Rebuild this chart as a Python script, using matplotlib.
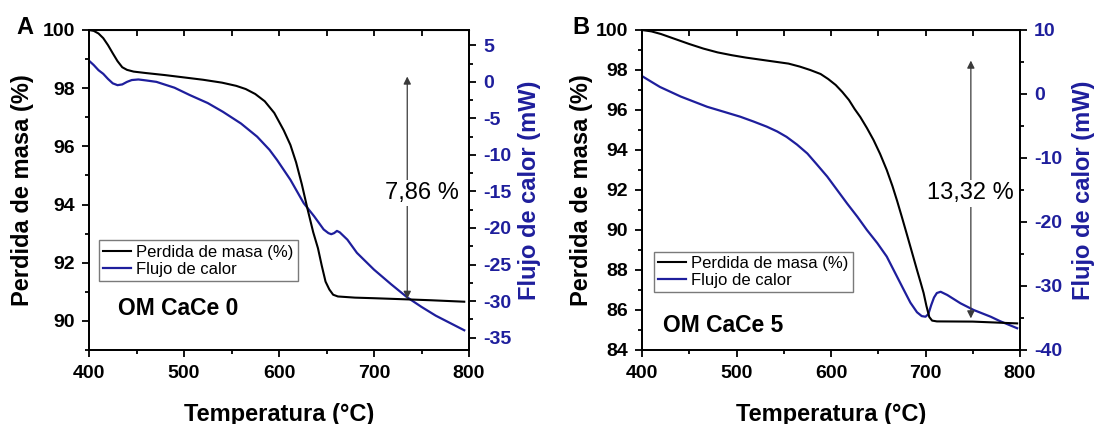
import matplotlib
matplotlib.use("Agg")
import matplotlib.pyplot as plt
from matplotlib.ticker import MultipleLocator

plt.rcParams['font.family'] = ['Liberation Sans', 'DejaVu Sans']
plt.rcParams['axes.unicode_minus'] = False

# ---- data ----
# panel A (OM CaCe 0)
temp_a_masa = [400, 405, 410, 415, 420, 425, 430, 435, 440, 447, 460, 480, 500, 520, 540, 555, 565,
               575, 585, 595, 605, 612, 618, 624, 630, 636, 641, 645, 649, 653, 657, 662, 680, 700,
               735, 760, 795]
masa_a = [100.0, 99.97, 99.88, 99.72, 99.48, 99.2, 98.93, 98.72, 98.63, 98.57, 98.52, 98.45, 98.37,
          98.29, 98.19, 98.08, 97.97, 97.8, 97.55, 97.15, 96.55, 96.05, 95.45, 94.7, 93.85, 93.05,
          92.5, 91.9, 91.35, 91.08, 90.9, 90.84, 90.8, 90.78, 90.74, 90.71, 90.66]

temp_a_flujo = [400, 405, 410, 415, 420, 425, 430, 435, 440, 445, 452, 460, 471, 490, 506, 525, 541,
                560, 577, 590, 598, 612, 626, 637, 647, 652, 655, 658, 661, 664, 672, 682, 700, 718,
                735, 750, 765, 780, 795]
flujo_a = [2.9, 2.3, 1.6, 1.1, 0.4, -0.2, -0.45, -0.35, 0.0, 0.25, 0.33, 0.2, 0.0, -0.8, -1.8, -2.9,
           -4.1, -5.7, -7.5, -9.3, -10.7, -13.4, -16.6, -18.4, -20.2, -20.7, -20.85, -20.7, -20.4,
           -20.6, -21.6, -23.4, -25.7, -27.7, -29.5, -30.8, -32.0, -33.0, -34.0]

# panel B (OM CaCe 5)
temp_b_masa = [400, 410, 420, 435, 450, 465, 480, 495, 510, 525, 540, 555, 567, 578, 589, 597, 605,
               612, 619, 625, 631, 638, 645, 652, 659, 665, 670, 675, 680, 685, 691, 695, 698, 701,
               704, 707, 712, 750, 797]
masa_b = [100.0, 99.93, 99.8, 99.55, 99.3, 99.07, 98.88, 98.74, 98.62, 98.52, 98.42, 98.32, 98.17,
          98.0, 97.8, 97.55, 97.25, 96.9, 96.5, 96.05, 95.65, 95.1, 94.5, 93.8, 93.0, 92.2, 91.45,
          90.65, 89.83, 89.0, 88.0, 87.35, 86.85, 86.2, 85.65, 85.47, 85.43, 85.42, 85.33]

temp_b_flujo = [400, 410, 419, 430, 441, 455, 469, 486, 504, 518, 532, 543, 553, 564, 575, 585, 596,
                606, 617, 628, 638, 649, 659, 668, 677, 684, 691, 696, 700, 703, 706, 709, 712, 716,
                723, 737, 751, 769, 779, 797]
flujo_b = [2.8, 1.9, 1.1, 0.35, -0.4, -1.2, -2.0, -2.75, -3.55, -4.3, -5.1, -5.85, -6.7, -7.9, -9.3,
           -11.0, -12.9, -14.9, -17.1, -19.2, -21.25, -23.3, -25.4, -28.0, -30.6, -32.6, -34.1,
           -34.7, -34.8, -34.4, -33.0, -31.8, -31.1, -30.9, -31.4, -32.7, -33.75, -34.8, -35.5, -36.6]

muestras = ["OM CaCe 0", "OM CaCe 5"]
perdidas = ["7,86 %", "13,32 %"]
letras = ["A", "B"]

azul = '#1e1e9c'

fig = plt.figure(figsize=(10.95, 4.24), dpi=100)


def panel(rect, t_m, m, t_f, f, ylim_l, ylim_r, step_l, step_r, muestra, perdida,
          flecha, txt_pos, muestra_pos, leg_pos, lab_x):
    ax = fig.add_axes(rect)
    ax2 = ax.twinx()
    l1, = ax.plot(t_m, m, color='black', lw=1.5, label='Perdida de masa (%)')
    l2, = ax2.plot(t_f, f, color=azul, lw=1.6, label='Flujo de calor')
    ax.set_zorder(ax2.get_zorder() + 1)
    ax.patch.set_visible(False)

    ax.set_xlim(400, 800)
    ax.set_ylim(*ylim_l)
    ax2.set_ylim(*ylim_r)
    ax.xaxis.set_major_locator(MultipleLocator(100))
    ax.xaxis.set_minor_locator(MultipleLocator(50))
    ax.yaxis.set_major_locator(MultipleLocator(step_l))
    ax.yaxis.set_minor_locator(MultipleLocator(step_l / 2))
    ax2.yaxis.set_major_locator(MultipleLocator(step_r))
    ax2.yaxis.set_minor_locator(MultipleLocator(step_r / 2))

    for a in (ax, ax2):
        for s in a.spines.values():
            s.set_linewidth(1.3)
    ax.tick_params(which='major', direction='out', length=5, width=1.3, labelsize=14)
    ax.tick_params(axis='x', which='major', pad=6)
    ax.tick_params(axis='y', which='major', pad=5)
    ax.tick_params(which='minor', direction='out', length=3, width=1.3)
    ax2.tick_params(which='major', direction='out', length=5, width=1.3, labelsize=14,
                    labelcolor=azul, pad=5)
    ax2.tick_params(which='minor', direction='out', length=3, width=1.3)
    for lab in ax.get_xticklabels() + ax.get_yticklabels() + ax2.get_yticklabels():
        lab.set_fontweight('bold')

    top = ax.secondary_xaxis('top')
    top.xaxis.set_major_locator(MultipleLocator(100))
    top.xaxis.set_minor_locator(MultipleLocator(50))
    top.tick_params(which='both', direction='in', length=4, width=1.3, labeltop=False)

    ax.set_xlabel('Temperatura (°C)', fontsize=17, fontweight='bold', va='center')
    ax.set_ylabel('Perdida de masa (%)', fontsize=17, fontweight='bold', va='center')
    ax2.set_ylabel('Flujo de calor (mW)', fontsize=17, fontweight='bold', color=azul,
                   rotation=90, va='center')
    ax.xaxis.set_label_coords(0.5, -0.2)
    ax.yaxis.set_label_coords(lab_x[0], 0.5)
    ax2.yaxis.set_label_coords(lab_x[1], 0.5)

    # mass-loss arrow
    ax.annotate('', xy=(flecha[0], flecha[2]), xytext=(flecha[0], flecha[1]),
                arrowprops=dict(arrowstyle='<|-|>', color='#3a3a3a', lw=0.9,
                                mutation_scale=11, shrinkA=0, shrinkB=0))
    ax.text(txt_pos[0], txt_pos[1], perdida, fontsize=17, ha='center', va='center',
            bbox=dict(facecolor='white', edgecolor='none', pad=1.5), zorder=5)
    ax.text(muestra_pos[0], muestra_pos[1], muestra, fontsize=16.5, fontweight='bold',
            va='center', ha='left')

    leg = ax.legend([l1, l2], [l1.get_label(), l2.get_label()], loc='lower left',
                    bbox_to_anchor=leg_pos, borderaxespad=0, fontsize=12, fancybox=False,
                    framealpha=1, edgecolor='#7a7a7a', handlelength=1.7, handletextpad=0.3,
                    borderpad=0.25, labelspacing=0.15)
    leg.get_frame().set_linewidth(1.0)
    return ax


panel([89 / 1095, 74 / 424, 380 / 1095, 320 / 424], temp_a_masa, masa_a, temp_a_flujo, flujo_a,
      (89, 100), (-36.7, 7.1), 2, 5, muestras[0], perdidas[0],
      (735, 98.4, 90.76), (750, 94.4), (430, 90.43), (0.026, 0.215), (-0.174, 1.16))

panel([642 / 1095, 74 / 424, 378 / 1095, 320 / 424], temp_b_masa, masa_b, temp_b_flujo, flujo_b,
      (84, 100), (-40, 10), 2, 10, muestras[1], perdidas[1],
      (748, 98.47, 85.58), (748, 91.83), (422, 85.2), (0.0305, 0.18), (-0.161, 1.167))

fig.text(25 / 1095, 1 - 27 / 424, letras[0], fontsize=17, fontweight='bold', ha='center',
         va='center')
fig.text(581 / 1095, 1 - 27 / 424, letras[1], fontsize=17, fontweight='bold', ha='center',
         va='center')

fig.savefig('out.png', dpi=100)
